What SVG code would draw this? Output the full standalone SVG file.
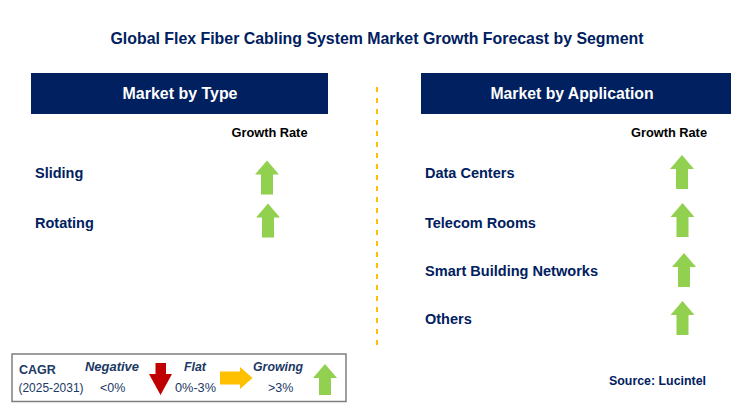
<svg xmlns="http://www.w3.org/2000/svg" width="740" height="420" viewBox="0 0 740 420">
<style>
.title{font-family:"Liberation Sans",Arial,sans-serif;font-weight:bold;font-size:17px;fill:#002060}
.hdr{font-family:"Liberation Sans",Arial,sans-serif;font-weight:bold;font-size:16px;fill:#ffffff}
.lbl{font-family:"Liberation Sans",Arial,sans-serif;font-weight:bold;font-size:14.5px;fill:#002060}
.gr{font-family:"Liberation Sans",Arial,sans-serif;font-weight:bold;font-size:13.5px;fill:#000000}
.lg{font-family:"Liberation Sans",Arial,sans-serif;font-size:12.5px;fill:#203864}
.lgb{font-family:"Liberation Sans",Arial,sans-serif;font-size:13px;font-weight:bold;font-style:italic;fill:#203864}
.src{font-family:"Liberation Sans",Arial,sans-serif;font-weight:bold;font-size:13px;fill:#002060}
.box{fill:#002060}
.up{fill:#92D050}
</style>
<defs>
<path id="up" d="M0,0 L12,14 L6,14 L6,34 L-6,34 L-6,14 L-12,14 Z"/>
</defs>
<rect width="740" height="420" fill="#ffffff"/>
<text class="title" x="377" y="43.5" text-anchor="middle" textLength="533" lengthAdjust="spacingAndGlyphs">Global Flex Fiber Cabling System Market Growth Forecast by Segment</text>

<g id="connectors">
<line x1="377" y1="87" x2="377" y2="347" stroke="#FFC000" stroke-width="2" stroke-dasharray="5,6"/>
</g>

<g id="header-type">
<rect class="box" x="31" y="73" width="297" height="41"/>
<text class="hdr" x="180" y="98.5" text-anchor="middle" textLength="115" lengthAdjust="spacingAndGlyphs">Market by Type</text>
</g>
<g id="header-application">
<rect class="box" x="421" y="73" width="310" height="41"/>
<text class="hdr" x="572" y="98.5" text-anchor="middle" textLength="163" lengthAdjust="spacingAndGlyphs">Market by Application</text>
</g>

<text class="gr" x="269.5" y="136.5" text-anchor="middle" textLength="76" lengthAdjust="spacingAndGlyphs">Growth Rate</text>
<text class="gr" x="669" y="136.5" text-anchor="middle" textLength="76" lengthAdjust="spacingAndGlyphs">Growth Rate</text>

<g id="type-sliding">
<text class="lbl" x="35" y="178">Sliding</text>
<use href="#up" class="up" x="267" y="160.5"/>
</g>
<g id="type-rotating">
<text class="lbl" x="35" y="228">Rotating</text>
<use href="#up" class="up" x="268" y="203.5"/>
</g>

<g id="app-data-centers">
<text class="lbl" x="425" y="177.5">Data Centers</text>
<use href="#up" class="up" x="682" y="155"/>
</g>
<g id="app-telecom-rooms">
<text class="lbl" x="425" y="227.5">Telecom Rooms</text>
<use href="#up" class="up" x="682.5" y="203"/>
</g>
<g id="app-smart-building">
<text class="lbl" x="425" y="275.5" textLength="173" lengthAdjust="spacingAndGlyphs">Smart Building Networks</text>
<use href="#up" class="up" x="684" y="253"/>
</g>
<g id="app-others">
<text class="lbl" x="425" y="324">Others</text>
<use href="#up" class="up" x="682.5" y="301"/>
</g>

<g id="legend">
<rect x="12" y="354" width="334" height="47.5" fill="#ffffff" stroke="#7F7F7F" stroke-width="1.5"/>
<text class="lg" x="19" y="373.5" style="font-weight:bold;font-size:12.5px">CAGR</text>
<text class="lg" x="18.5" y="391.5" textLength="65" lengthAdjust="spacingAndGlyphs">(2025-2031)</text>
<text class="lgb" x="85" y="371" textLength="54" lengthAdjust="spacingAndGlyphs">Negative</text>
<text class="lg" x="100" y="392">&lt;0%</text>
<path d="M149,374 L155.5,374 L155.5,363 L166,363 L166,374 L172,374 L160.5,395 Z" fill="#C00000"/>
<text class="lgb" x="184" y="371" textLength="22" lengthAdjust="spacingAndGlyphs">Flat</text>
<text class="lg" x="175" y="391.5" textLength="41" lengthAdjust="spacingAndGlyphs">0%-3%</text>
<path d="M220,371.5 L240,371.5 L240,367 L252.5,378 L240,389 L240,384.5 L220,384.5 Z" fill="#FFC000"/>
<text class="lgb" x="253" y="371" textLength="50" lengthAdjust="spacingAndGlyphs">Growing</text>
<text class="lg" x="268" y="391.5">&gt;3%</text>
<path d="M325,364 L337,378 L331,378 L331,395 L319,395 L319,378 L313,378 Z" fill="#92D050"/>
</g>

<text class="src" x="609" y="385" textLength="97" lengthAdjust="spacingAndGlyphs">Source: Lucintel</text>
</svg>
